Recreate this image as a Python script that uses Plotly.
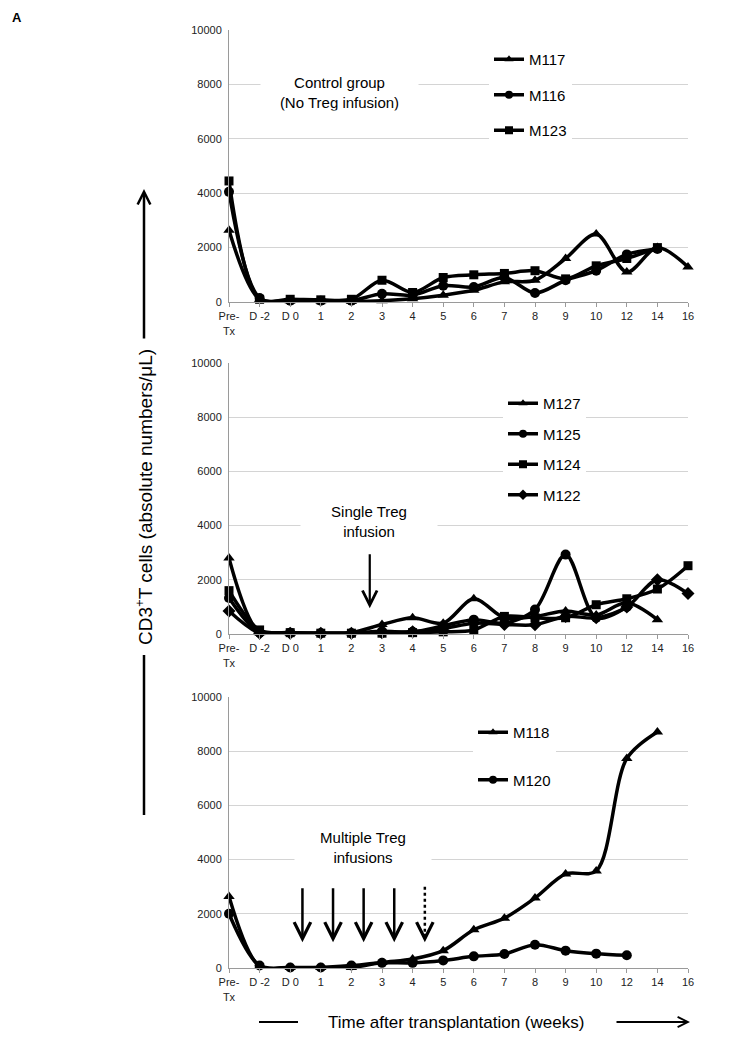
import plotly.graph_objects as go

categories = ["Pre-Tx", "D -2", "D 0", "1", "2", "3", "4", "5", "6", "7", "8", "9", "10", "12", "14", "16"]
tick_text = ["Pre-<br>Tx", "D -2", "D 0", "1", "2", "3", "4", "5", "6", "7", "8", "9", "10", "12", "14", "16"]
y_ticks = [0, 2000, 4000, 6000, 8000, 10000]

# Panel 1: control group
M117 = [2640, 100, 50, 50, 30, 50, 120, 250, 430, 740, 800, 1600, 2500, 1100, 2000, 1290]
M116 = [4050, 150, 50, 50, 50, 300, 250, 600, 550, 900, 330, 800, 1150, 1750, 1950, None]
M123 = [4450, 100, 100, 80, 100, 800, 350, 900, 1000, 1050, 1150, 850, 1330, 1600, 2000, None]

# Panel 2: single Treg infusion
M127 = [2800, 50, 30, 20, 50, 350, 600, 400, 1300, 600, 650, 850, 700, 1150, 530, None]
M125 = [1330, 50, 50, 30, 30, 100, 80, 300, 530, 400, 900, 2930, 600, 1000, None, None]
M124 = [1600, 150, 50, 30, 30, 30, 50, 80, 150, 650, 600, 600, 1080, 1300, 1660, 2520]
M122 = [850, 30, 30, 30, 30, 50, 80, 200, 400, 350, 340, 650, 600, 1000, 2000, 1490]

# Panel 3: multiple Treg infusions
M118 = [2640, 60, 20, 20, 20, 200, 330, 640, 1410, 1840, 2580, 3470, 3580, 7730, 8710, None]
M120 = [2000, 90, 20, 20, 90, 190, 190, 280, 430, 515, 860, 640, 530, 470, None, None]

panels = [
    [("M117", M117, "triangle-up"), ("M116", M116, "circle"), ("M123", M123, "square")],
    [("M127", M127, "triangle-up"), ("M125", M125, "circle"), ("M124", M124, "square"), ("M122", M122, "diamond")],
    [("M118", M118, "triangle-up"), ("M120", M120, "circle")],
]
single_arrow_x = [4.6]
multi_arrow_x = [2.4, 3.4, 4.4, 5.4]
dashed_arrow_x = [6.4]
arrow_top, arrow_bottom = 3000, 950

FONT = "Liberation Sans, Arial, sans-serif"
fig = go.Figure()
legends = ["legend", "legend2", "legend3"]
for p, series in enumerate(panels):
    ax_id = "" if p == 0 else str(p + 1)
    for name, vals, sym in series:
        fig.add_trace(go.Scatter(
            x=categories, y=vals, name=name, mode="lines+markers",
            line=dict(color="black", width=3.5, shape="spline", smoothing=0.9),
            marker=dict(symbol=sym, size=10 if sym != "square" else 9, color="black"),
            xaxis="x" + ax_id, yaxis="y" + ax_id, cliponaxis=False,
            legend=legends[p], legendgroup=name, showlegend=False,
        ))
        # legend key (no data points), smaller symbol as in the reference
        fig.add_trace(go.Scatter(
            x=[None], y=[None], name=name, mode="lines+markers",
            line=dict(color="black", width=3.5),
            marker=dict(symbol=sym, size=8, color="black"),
            xaxis="x" + ax_id, yaxis="y" + ax_id,
            legend=legends[p], legendgroup=name, showlegend=True,
        ))

# page pixel -> paper coordinates (the page has an 8px body margin)
H0, H1 = 30, 968
PH = H1 - H0
def py(px):
    return (H1 - px) / PH
def pxx(px):
    return (px - 229) / 459

domains = [[py(302), py(30)], [py(634), py(363)], [py(968), py(697)]]
axis_common = dict(showline=True, linecolor="#9a9a9a", linewidth=1)
for p in range(3):
    ax_id = "" if p == 0 else str(p + 1)
    fig.update_layout(**{
        "xaxis" + ax_id: dict(
            type="category", categoryorder="array", categoryarray=categories,
            tickvals=categories, ticktext=tick_text, range=[0, 15],
            anchor="y" + ax_id, domain=[0, 1], showgrid=False, zeroline=False,
            ticks="outside", ticklen=4, tickcolor="#9a9a9a",
            tickfont=dict(family=FONT, size=11, color="#222"), **axis_common),
        "yaxis" + ax_id: dict(
            range=[0, 10000], tickvals=y_ticks, tickformat="d", anchor="x" + ax_id, domain=domains[p],
            showgrid=True, gridcolor="#d4d4d4", gridwidth=1, zeroline=False,
            ticks="", tickfont=dict(family=FONT, size=11, color="#222"),
            ticklabelstandoff=4, **axis_common),
    })

leg_common = dict(bgcolor="white", font=dict(family=FONT, size=15, color="black"),
                  xanchor="left", yanchor="top", traceorder="grouped", itemwidth=30)
fig.update_layout(
    legend=dict(x=pxx(489), y=py(43), tracegroupgap=13, **leg_common),
    legend2=dict(x=pxx(503), y=py(387), tracegroupgap=8, **leg_common),
    legend3=dict(x=pxx(473), y=py(716), tracegroupgap=25, **leg_common),
)

ann = []
txt_font = dict(family=FONT, size=15, color="black")
def label(text, x, y, **kw):
    d = dict(text=text, x=x, y=y, xref="paper", yref="paper", showarrow=False,
             xanchor="center", yanchor="middle")
    d.update(kw)
    ann.append(d)

label("Control group<br>(No Treg infusion)", pxx(339), py(93), bgcolor="white", font=txt_font, width=155, align="center")
label("Single Treg<br>infusion", pxx(369), py(521), bgcolor="white", font=txt_font, width=134, align="center")
label("Multiple Treg<br>infusions", pxx(363), py(847), bgcolor="white", font=txt_font, width=134, align="center")

for xv in single_arrow_x:
    ann.append(dict(x=xv, y=arrow_bottom, ax=xv, ay=arrow_top, xref="x2", yref="y2", axref="x2", ayref="y2",
                    text="", showarrow=True, arrowhead=5, arrowsize=1.3, arrowwidth=2.2, arrowcolor="black", standoff=0))
for xv in multi_arrow_x:
    ann.append(dict(x=xv, y=arrow_bottom, ax=xv, ay=arrow_top, xref="x3", yref="y3", axref="x3", ayref="y3",
                    text="", showarrow=True, arrowhead=5, arrowsize=1.3, arrowwidth=2.5, arrowcolor="black", standoff=0))
shapes = []
for xv in dashed_arrow_x:
    ann.append(dict(x=xv, y=arrow_bottom, ax=0, ay=-8, xref="x3", yref="y3",
                    text="", showarrow=True, arrowhead=5, arrowsize=1.3, arrowwidth=2.5, arrowcolor="black", standoff=0))
    shapes.append(dict(type="line", xref="x3", yref="y3", x0=xv, x1=xv, y0=arrow_top, y1=arrow_bottom + 250,
                       line=dict(color="black", width=2.5, dash="dot")))

# y-axis title with arrow
label("CD3<sup>+</sup>T cells (absolute numbers/μL)", pxx(144), py(497), textangle=-90,
      font=dict(family="Liberation Sans Narrow, Arial Narrow, Liberation Sans, sans-serif", size=19, color="black"))
ann.append(dict(text="", x=pxx(144), y=py(189), xref="paper", yref="paper", ax=0, ay=151,
                showarrow=True, arrowhead=5, arrowsize=1.0, arrowwidth=2.5, arrowcolor="black", standoff=0))
shapes.append(dict(type="line", xref="paper", yref="paper", x0=pxx(144), x1=pxx(144), y0=py(815), y1=py(655),
                   line=dict(color="black", width=2.5)))

# x-axis title with arrow
label("Time after transplantation (weeks)", pxx(456), py(1022), font=dict(family=FONT, size=17, color="black"))
shapes.append(dict(type="line", xref="paper", yref="paper", x0=pxx(259), x1=pxx(298), y0=py(1022), y1=py(1022),
                   line=dict(color="black", width=2)))
ann.append(dict(text="", x=pxx(690), y=py(1022), xref="paper", yref="paper", ax=-75, ay=0,
                showarrow=True, arrowhead=5, arrowsize=1.0, arrowwidth=2, arrowcolor="black", standoff=0))

label("<b>A</b>", pxx(10), py(18), xanchor="left", font=dict(family=FONT, size=13, color="black"))

# figure is drawn at page offset (8, 8)
fig.update_layout(
    width=734, height=1033, margin=dict(l=221, r=54, t=22, b=73),
    paper_bgcolor="white", plot_bgcolor="white",
    annotations=ann, shapes=shapes, showlegend=True,
)
fig.write_html("out.html")
